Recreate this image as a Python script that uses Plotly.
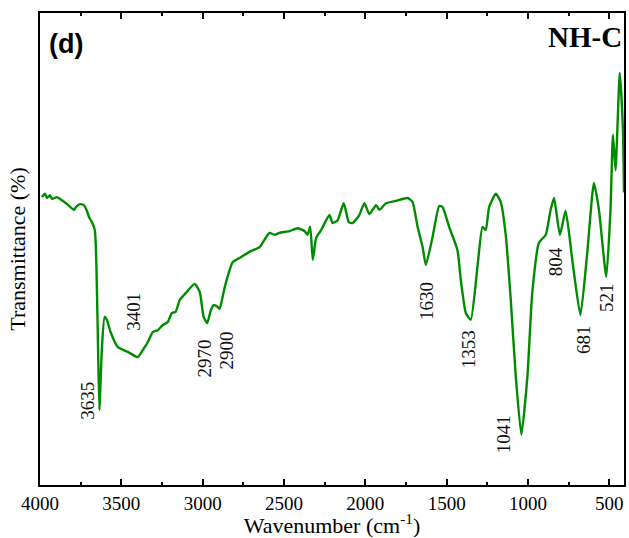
import plotly.graph_objects as go

# Spectrum (wavenumber in cm-1, transmittance in arbitrary %)
wavenumber = [3988, 3969, 3957, 3939, 3926, 3896, 3877, 3840, 3791, 3779, 3755, 3730, 3712, 3699,
              3681, 3663, 3656, 3650, 3644, 3635, 3620, 3603, 3589, 3564, 3521, 3460, 3399, 3368,
              3337, 3307, 3276, 3245, 3215, 3190, 3166, 3141, 3098, 3049, 3018, 2994, 2972, 2951,
              2933, 2914, 2896, 2871, 2853, 2816, 2773, 2712, 2650, 2632, 2589, 2558, 2528, 2466,
              2417, 2374, 2356, 2339, 2323, 2302, 2272, 2221, 2201, 2170, 2133, 2102, 2078, 2037,
              2006, 1975, 1934, 1914, 1873, 1812, 1740, 1710, 1679, 1648, 1628, 1587, 1546, 1526,
              1485, 1434, 1413, 1382, 1352, 1311, 1280, 1260, 1239, 1198, 1168, 1137, 1106, 1075,
              1041, 1004, 974, 933, 891, 861, 840, 804, 769, 728, 678, 636, 595, 564, 519, 493,
              478, 462, 436, 417, 410]
transmittance = [61.0, 61.7, 60.8, 61.4, 60.6, 61.0, 60.6, 59.7, 58.3, 58.9, 59.5, 59.3, 58.1, 56.8,
                 55.7, 54.0, 49.8, 41.3, 30.7, 15.9, 28.6, 35.6, 35.0, 32.2, 29.2, 28.2, 27.1, 28.6,
                 30.3, 32.4, 32.8, 33.9, 34.5, 36.4, 36.7, 39.2, 40.9, 42.6, 40.9, 35.6, 34.3, 36.9,
                 38.1, 37.9, 37.3, 40.9, 43.4, 47.2, 48.1, 49.4, 50.4, 51.3, 53.4, 53.0, 53.4, 53.8,
                 54.4, 53.8, 53.0, 54.7, 47.7, 52.4, 54.0, 57.2, 55.5, 56.1, 59.7, 55.7, 55.5, 57.2,
                 59.7, 57.4, 59.3, 58.3, 59.7, 60.2, 60.8, 60.0, 54.7, 50.4, 46.6, 52.5, 59.1, 58.9,
                 54.7, 49.8, 43.4, 36.4, 35.0, 46.2, 54.7, 54.0, 58.9, 61.7, 60.0, 53.0, 39.2, 22.9,
                 10.6, 22.9, 40.7, 51.3, 53.0, 58.3, 60.8, 53.0, 58.1, 47.7, 36.0, 49.2, 64.0, 58.3,
                 44.1, 58.3, 74.2, 66.7, 87.3, 75.8, 62.0]

# Peak labels: text, anchor wavenumber, anchor transmittance
peak_labels = ["3635", "3401", "2970", "2900", "1630", "1353", "1041", "804", "681", "521"]
peak_label_x = [3706, 3423, 2988, 2853, 1620, 1368, 1153, 834, 663, 521]
peak_label_y = [17.8, 36.7, 26.7, 28.4, 39.0, 28.8, 10.8, 47.2, 30.9, 39.8]

x_ticks = [4000, 3500, 3000, 2500, 2000, 1500, 1000, 500]

serif = "Liberation Serif, Times New Roman, serif"

fig = go.Figure()
fig.add_trace(go.Scatter(
    x=wavenumber, y=transmittance, mode="lines",
    line=dict(color="rgb(0,140,0)", width=2.4, shape="spline", smoothing=0.5),
    showlegend=False, hoverinfo="skip"))

for t, x, y in zip(peak_labels, peak_label_x, peak_label_y):
    fig.add_annotation(x=x, y=y, xref="x", yref="y", text=t, textangle=-90,
                       showarrow=False, font=dict(family=serif, size=19, color="#111"))

fig.add_annotation(x=0.012, y=0.935, xref="paper", yref="paper", text="<b>(d)</b>",
                   showarrow=False, xanchor="left", yanchor="middle",
                   font=dict(family="Liberation Sans, Arial, sans-serif", size=27, color="black"))
fig.add_annotation(x=1.0, y=0.95, xref="paper", yref="paper", text="<b>NH-C</b>",
                   showarrow=False, xanchor="right", yanchor="middle",
                   font=dict(family=serif, size=29, color="black"))

fig.update_layout(
    width=629, height=538,
    margin=dict(l=40, r=3, t=13, b=53),
    paper_bgcolor="white", plot_bgcolor="white",
    font=dict(family=serif, color="black"),
    xaxis=dict(
        range=[4000, 410], tickvals=x_ticks, ticks="inside", ticklen=6, tickwidth=1.5,
        tickcolor="black", showline=True, linecolor="black", linewidth=2, mirror="ticks",
        showgrid=False, zeroline=False, tickfont=dict(family=serif, size=19),
        minor=dict(ticks="inside", dtick=250, ticklen=3, tickwidth=1.5, tickcolor="black"),
        title=dict(text="Wavenumber (cm<sup>-1</sup>)", font=dict(family=serif, size=22), standoff=4),
    ),
    yaxis=dict(
        range=[0, 100], showticklabels=False, ticks="", showline=True, linecolor="black",
        linewidth=2, mirror=True, showgrid=False, zeroline=False,
        title=dict(text="Transmittance (%)", font=dict(family=serif, size=22), standoff=6),
    ),
)

# Remove the page's default body margin so the figure fills the window exactly
fig.write_html("out.html",
               config={"displayModeBar": False},
               post_script="document.body.style.margin='0';document.body.style.overflow='hidden';")
